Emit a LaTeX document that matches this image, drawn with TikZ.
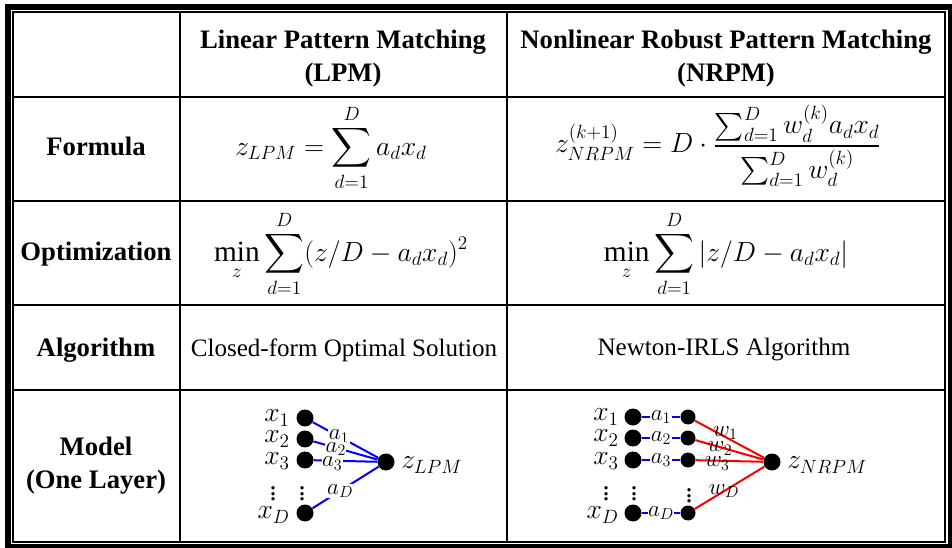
\documentclass[tikz,border=0pt]{standalone}
\usepackage{amsmath}
\usepackage{fontspec}
\setmainfont{Liberation Serif}[BoldFont={Liberation Serif Bold},ItalicFont={Liberation Serif Italic}]
\begin{document}
\begin{tikzpicture}[x=0.75pt,y=-0.75pt,
  txt/.style={font=\fontsize{18.8}{24.75}\selectfont, align=center, inner sep=0pt},
  mth/.style={font=\fontsize{22}{26}\selectfont, align=center, inner sep=0pt},
  hdr/.style={align=center, inner sep=0pt, font=\fontsize{20}{24.75}\selectfont\bfseries},
  gridline/.style={line width=1.5pt},
  bigdot/.style={circle, fill=black, minimum size=12.75pt, inner sep=0pt},
  smalldot/.style={circle, fill=black, minimum size=11.25pt, inner sep=0pt},
  bl/.style={blue, line width=1.5pt},
  rl/.style={red, line width=1.5pt},
  wlab/.style={font=\fontsize{17}{18}\selectfont, inner sep=0.3pt, text=black},
  alab/.style={wlab, fill=white},
  xlab/.style={font=\fontsize{21}{22}\selectfont, inner sep=0pt},
]
\useasboundingbox (0,0) rectangle (952,548);
\fill[white] (0,0) rectangle (952,548);
% outer border
\draw[line width=4.5pt] (8,4) -- (8,548);
\draw[line width=4.5pt] (5,7) -- (952,7);
\draw[line width=3pt] (950,4) -- (950,548);
\draw[line width=3pt] (5,546) -- (952,546);
\draw[gridline] (13,12) rectangle (945,542);
% grid
\draw[gridline] (180,12) -- (180,542);
\draw[gridline] (507,12) -- (507,542);
\draw[gridline] (13,97) -- (945,97);
\draw[gridline] (13,201) -- (945,201);
\draw[gridline] (13,305) -- (945,305);
\draw[gridline] (13,390) -- (945,390);
% headers
\node[hdr] (h1) at (343,59) {Linear Pattern Matching\\(LPM)};
\node[hdr] (h2) at (726,59) {Nonlinear Robust Pattern Matching\\(NRPM)};
% row labels
\node[hdr] (r1) at (96,146) {Formula};
\node[hdr] (r2) at (96,254) {Optimization};
\node[hdr] (r3) at (96,350) {Algorithm};
\node[hdr] (r4) at (96,466) {Model\\(One Layer)};
% formulas
\node[mth] (f1) at (331,148) {$\displaystyle z_{LPM}=\sum_{d=1}^{D} a_d x_d$};
\node[mth] (f2) at (718,146) {$\displaystyle z_{NRPM}^{(k+1)}=D\cdot\frac{\sum_{d=1}^{D} w_d^{(k)} a_d x_d}{\sum_{d=1}^{D} w_d^{(k)}}$};
\node[mth] (o1) at (341,254) {$\displaystyle \min_{z}\sum_{d=1}^{D}(z/D-a_d x_d)^2$};
\node[mth] (o2) at (726,254) {$\displaystyle \min_{z}\sum_{d=1}^{D}|z/D-a_d x_d|$};
\node[txt] (g1) at (344,350) {Closed-form Optimal Solution};
\node[txt] (g2) at (724,350) {Newton-IRLS Algorithm};
% LPM model
\node[bigdot] (l1) at (305,418) {};
\node[bigdot] (l2) at (305,439) {};
\node[bigdot] (l3) at (305,460) {};
\node[bigdot] (lD) at (305,513) {};
\node[bigdot] (lz) at (386,462) {};
\node[xlab, anchor=east] (lx1) at (290,418) {$x_1$};
\node[xlab, anchor=east] (lx2) at (290,439) {$x_2$};
\node[xlab, anchor=east] (lx3) at (290,461) {$x_3$};
\node[xlab, anchor=east] (lxD) at (290,515) {$x_D$};
\node[xlab] (lv1) at (273,490) {$\vdots$};
\node[xlab] (lv2) at (302,490) {$\vdots$};
\node[xlab, anchor=west] (lzl) at (401,465) {$z_{LPM}$};
\draw[bl] (l1) -- node[alab, pos=0.4] {$a_1$} (lz);
\draw[bl] (l2) -- node[alab, pos=0.35, yshift=-1pt] {$a_2$} (lz);
\draw[bl] (l3) -- node[alab, pos=0.29, yshift=-2pt] {$a_3$} (lz);
\draw[bl] (lD) -- node[alab, pos=0.42] {$a_D$} (lz);
% NRPM model
\node[bigdot] (n1) at (633,417) {};
\node[bigdot] (n2) at (633,438) {};
\node[bigdot] (n3) at (633,460) {};
\node[bigdot] (nD) at (633,513) {};
\node[smalldot] (m1) at (688,417) {};
\node[smalldot] (m2) at (688,438) {};
\node[smalldot] (m3) at (688,460) {};
\node[smalldot] (mD) at (688,513) {};
\node[bigdot] (nz) at (772,462) {};
\node[xlab, anchor=east] (nx1) at (619,417) {$x_1$};
\node[xlab, anchor=east] (nx2) at (619,438) {$x_2$};
\node[xlab, anchor=east] (nx3) at (619,461) {$x_3$};
\node[xlab, anchor=east] (nxD) at (619,515) {$x_D$};
\node[xlab] (nv1) at (606,490) {$\vdots$};
\node[xlab] (nv2) at (634,490) {$\vdots$};
\node[xlab] (nv3) at (689,492) {$\vdots$};
\node[xlab, anchor=west] (nzl) at (787,465) {$z_{NRPM}$};
\draw[bl] (n1) -- node[alab, pos=0.5] {$a_1$} (m1);
\draw[bl] (n2) -- node[alab, pos=0.5] {$a_2$} (m2);
\draw[bl] (n3) -- node[alab, pos=0.5] {$a_3$} (m3);
\draw[bl] (nD) -- node[alab, pos=0.5] {$a_D$} (mD);
\draw[rl] (m1) -- node[wlab, pos=0.44, yshift=3pt] {$w_1$} (nz);
\draw[rl] (m2) -- node[wlab, pos=0.36, yshift=-1pt] {$w_2$} (nz);
\draw[rl] (m3) -- node[wlab, pos=0.32, yshift=-2pt] {$w_3$} (nz);
\draw[rl] (mD) -- node[wlab, pos=0.42] {$w_D$} (nz);
\end{tikzpicture}
\end{document}
